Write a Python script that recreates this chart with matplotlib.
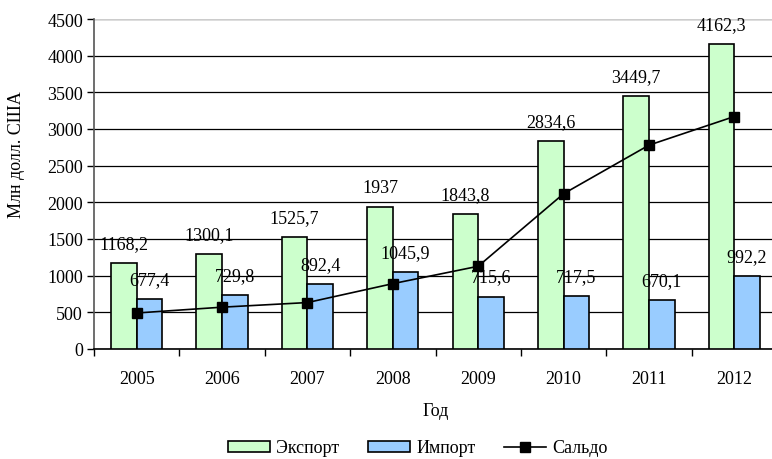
import matplotlib
matplotlib.use("Agg")
import matplotlib.pyplot as plt
import numpy as np

years = ["2005", "2006", "2007", "2008", "2009", "2010", "2011", "2012"]
export = [1168.2, 1300.1, 1525.7, 1937, 1843.8, 2834.6, 3449.7, 4162.3]
imports = [677.4, 729.8, 892.4, 1045.9, 715.6, 717.5, 670.1, 992.2]
saldo = [490.8, 570.3, 633.3, 891.1, 1128.2, 2117.1, 2779.6, 3170.1]
export_labels = ["1168,2", "1300,1", "1525,7", "1937", "1843,8", "2834,6", "3449,7", "4162,3"]
import_labels = ["677,4", "729,8", "892,4", "1045,9", "715,6", "717,5", "670,1", "992,2"]
y_ticks = [0, 500, 1000, 1500, 2000, 2500, 3000, 3500, 4000, 4500]

FS = 13
SERIF = ['Liberation Serif', 'DejaVu Serif']
plt.rcParams['font.family'] = SERIF
plt.rcParams['font.size'] = FS

fig = plt.figure(figsize=(7.72, 4.6), dpi=100)
ax = fig.add_axes([94/772, 1-350/460, (777-94)/772, (350-20)/460])

x = np.arange(len(years))
w = 0.3
b1 = ax.bar(x - w/2, export, w, color="#CCFFCC", edgecolor="black", linewidth=1.2, label="Экспорт", zorder=3)
b2 = ax.bar(x + w/2, imports, w, color="#99CCFF", edgecolor="black", linewidth=1.2, label="Импорт", zorder=3)
ln, = ax.plot(x, saldo, color="black", marker="s", markersize=7, linewidth=1.2, label="Сальдо", zorder=5)

for xi, v, t in zip(x, export, export_labels):
    ax.annotate(t, (xi - w/2, v), xytext=(0, 14), textcoords="offset points",
                ha="center", va="center", fontsize=FS, family=SERIF, zorder=6)
for xi, v, t in zip(x, imports, import_labels):
    ax.annotate(t, (xi + w/2, v), xytext=(0, 14), textcoords="offset points",
                ha="center", va="center", fontsize=FS, family=SERIF, zorder=6)

ax.set_ylim(0, 4500)
ax.set_yticks(y_ticks)
ax.set_yticklabels([str(v) for v in y_ticks], fontfamily=SERIF, fontsize=FS)
ax.set_xlim(-0.5, len(years) - 0.5)
ax.set_xticks(x)
ax.set_xticklabels(years, fontfamily=SERIF, fontsize=FS)
ax.set_xticks(np.arange(-0.5, len(years), 1), minor=True)
ax.tick_params(axis='x', which='major', length=0, pad=15)
ax.tick_params(axis='x', which='minor', length=5, direction='out', width=1)
ax.tick_params(axis='y', length=5, direction='out', width=1, pad=3)

ax.yaxis.grid(True, color="black", linewidth=0.9, zorder=0)
ax.set_axisbelow(True)
for s in ["top", "right"]:
    ax.spines[s].set_visible(False)
ax.spines["left"].set_color("#555555")
ax.spines["bottom"].set_color("black")
ax.spines["left"].set_linewidth(1.2)
ax.spines["bottom"].set_linewidth(1.2)
ax.axhline(4500, color="#cccccc", linewidth=0.8, zorder=1)

ax.set_ylabel("Млн долл. США", fontsize=FS, family=SERIF)
ax.yaxis.set_label_coords((25 - 94) / 683, (350 - 155) / 330)
ax.set_xlabel("Год", fontsize=FS, family=SERIF, labelpad=11)

fig.legend(handles=[b1, b2, ln], labels=["Экспорт", "Импорт", "Сальдо"],
           loc="center", bbox_to_anchor=(418/772, 1-449/460), ncol=3, frameon=False,
           prop={'family': SERIF, 'size': FS}, handlelength=2.3, handleheight=0.55,
           columnspacing=1.6, handletextpad=0.35, borderpad=0.1)

fig.savefig("out.png", dpi=100)
